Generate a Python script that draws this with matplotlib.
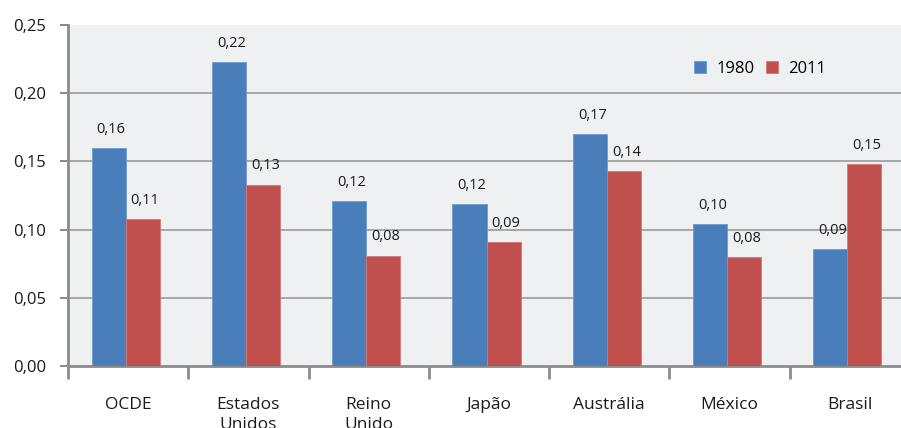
import numpy as np
import matplotlib
matplotlib.use("Agg")
import matplotlib.pyplot as plt
from matplotlib.ticker import FixedLocator, FuncFormatter

# ── data ─────────────────────────────────────
categories = ["OCDE", "Estados\nUnidos", "Reino\nUnido", "Japão",
              "Austrália", "México", "Brasil"]
values_1980 = [0.160, 0.223, 0.121, 0.119, 0.170, 0.104, 0.086]
values_2011 = [0.108, 0.133, 0.081, 0.091, 0.143, 0.080, 0.148]
series_names = ["1980", "2011"]
y_ticks = [0.00, 0.05, 0.10, 0.15, 0.20, 0.25]

# ── style ────────────────────────────────────
BLUE = "#4a7ebb"
RED = "#c0504d"
PANEL = "#eff0f2"
AXIS_GRAY = "#8c8c8c"
plt.rcParams["font.family"] = ["Open Sans", "DejaVu Sans"]


def comma(v):
    return f"{v:.2f}".replace(".", ",")


fig = plt.figure(figsize=(9.01, 4.28), dpi=100, facecolor="white")
ax = fig.add_axes([68 / 901, 62 / 428, 842 / 901, 341 / 428])
ax.set_facecolor(PANEL)

x = np.arange(len(categories))
width = 0.283
off_blue, off_red = -0.162, 0.121

bars_a = ax.bar(x + off_blue, values_1980, width, color=BLUE,
                edgecolor="#6f9bd0", linewidth=0.6, label=series_names[0],
                zorder=3)
bars_b = ax.bar(x + off_red, values_2011, width, color=RED,
                edgecolor="#d27a77", linewidth=0.6, label=series_names[1],
                zorder=3)

for bars, vals in ((bars_a, values_1980), (bars_b, values_2011)):
    for b, v in zip(bars, vals):
        ax.annotate(comma(v), (b.get_x() + b.get_width() / 2 + 0.02, v),
                    xytext=(0, 8), textcoords="offset points",
                    ha="center", va="bottom", fontsize=10.5, color="#1a1a1a")

ax.set_ylim(0, 0.25)
ax.set_xlim(-0.5, len(categories) - 0.5)

ax.yaxis.set_major_locator(FixedLocator(y_ticks))
ax.yaxis.set_major_formatter(FuncFormatter(lambda v, _: comma(v)))
# horizontal rules only inside the panel (none along the top edge)
for t in y_ticks[1:-1]:
    ax.axhline(t, color="#9a9a9a", linewidth=1.2, zorder=1)

# category boundaries carry tick marks, labels sit on the centres
ax.xaxis.set_major_locator(FixedLocator(np.arange(-0.5, len(categories), 1.0)))
ax.xaxis.set_major_formatter(FuncFormatter(lambda v, _: ""))
ax.xaxis.set_minor_locator(FixedLocator(x))
ax.set_xticklabels(categories, minor=True)
ax.tick_params(axis="x", which="major", length=9, width=2, color=AXIS_GRAY,
               direction="out")
ax.tick_params(axis="x", which="minor", length=0, pad=22, labelsize=12.5,
               colors="#1a1a1a")
for lbl in ax.get_xticklabels(minor=True):
    lbl.set_linespacing(1.4)
    lbl.set_va("top")
ax.tick_params(axis="y", length=6, width=1.5, color=AXIS_GRAY, pad=10,
               labelsize=12, labelcolor="#1a1a1a")

for side in ("top", "right"):
    ax.spines[side].set_visible(False)
for side in ("left", "bottom"):
    ax.spines[side].set_color(AXIS_GRAY)
    ax.spines[side].set_linewidth(2)

ax.legend(loc="upper left", bbox_to_anchor=(0.735, 0.915), ncol=2,
          frameon=False, fontsize=12, handlelength=0.75, handleheight=0.75,
          handletextpad=0.6, columnspacing=0.7, borderaxespad=0)

fig.savefig("out.png", dpi=100, facecolor=fig.get_facecolor())
